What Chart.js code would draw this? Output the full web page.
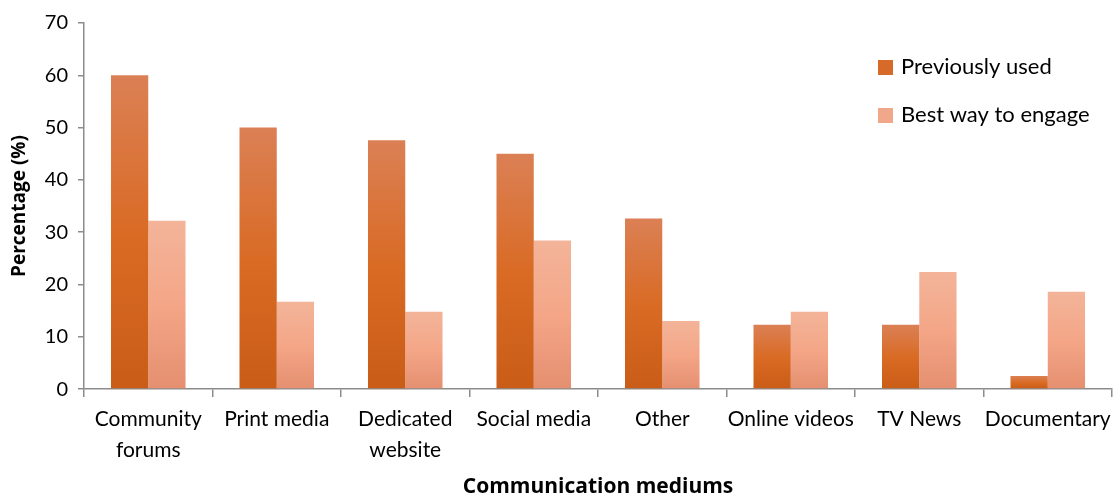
<!DOCTYPE html>
<html>
<head>
<meta charset="utf-8">
<script src="https://cdn.jsdelivr.net/npm/chart.js@4/dist/chart.umd.min.js"></script>
<style>
  html, body { margin: 0; padding: 0; background: #fff; }
  #wrap { width: 1118px; height: 496px; }
</style>
</head>
<body>
<div id="wrap"><canvas id="chart"></canvas></div>
<script>
const categories = [["Community", "forums"], "Print media", ["Dedicated", "website"], "Social media", "Other", "Online videos", "TV News", "Documentary"];
const previouslyUsed = [60, 50, 47.6, 45, 32.6, 12.3, 12.3, 2.5];
const bestWay = [32.2, 16.7, 14.8, 28.4, 13.0, 14.8, 22.4, 18.6];
const yTicks = [0, 10, 20, 30, 40, 50, 60, 70];

const FONT = "Lato, 'Open Sans', sans-serif";
const TITLE_FONT = "'Open Sans', Lato, sans-serif";

// gradient per bar, running from the bar top to the axis
function barGradient(stops) {
    return function (ctx) {
        const chart = ctx.chart;
        if (!chart.chartArea || ctx.type !== 'data') return stops[1];
        const y = chart.scales.y;
        const top = y.getPixelForValue(ctx.raw);
        const base = y.getPixelForValue(0);
        if (!isFinite(top) || top === base) return stops[1];
        const g = chart.ctx.createLinearGradient(0, top, 0, base);
        g.addColorStop(0, stops[0]);
        g.addColorStop(0.5, stops[1]);
        g.addColorStop(1, stops[2]);
        return g;
    };
}

const legendInside = {
    id: 'legendInside',
    afterDraw(chart) {
        const c = chart.ctx;
        c.save();
        c.font = "22px " + FONT;
        c.textBaseline = 'middle';
        chart.data.datasets.forEach((ds, i) => {
            const y = 67 + i * 48;
            c.fillStyle = ds.legendColor;
            c.fillRect(878, y - 7, 15, 15);
            c.fillStyle = '#000';
            c.fillText(ds.label, 901, y);
        });
        c.restore();
    }
};

new Chart(document.getElementById('chart'), {
    type: 'bar',
    data: {
        labels: categories,
        datasets: [{
            label: 'Previously used',
            data: previouslyUsed,
            backgroundColor: barGradient(['#DB8055', '#D96B25', '#C95C16']),
            legendColor: '#D66A28',
            categoryPercentage: 0.58,
            barPercentage: 1
        }, {
            label: 'Best way to engage',
            data: bestWay,
            backgroundColor: barGradient(['#F3B499', '#F4A687', '#E48F70']),
            legendColor: '#F1A88A',
            categoryPercentage: 0.58,
            barPercentage: 1
        }]
    },
    options: {
        responsive: true,
        maintainAspectRatio: false,
        animation: false,
        layout: { padding: { top: 23, right: 5, left: 8, bottom: 0 } },
        plugins: {
            legend: { display: false },
            tooltip: { enabled: false }
        },
        scales: {
            x: {
                offset: true,
                grid: {
                    offset: true,
                    drawOnChartArea: false,
                    drawTicks: true,
                    tickLength: 8,
                    color: '#8C8C8C',
                    lineWidth: 1.5
                },
                border: { color: '#8C8C8C', width: 1.5 },
                ticks: {
                    color: '#000',
                    font: { family: FONT, size: 21, lineHeight: 1.45 },
                    maxRotation: 0,
                    autoSkip: false,
                    padding: 7
                },
                title: {
                    display: true,
                    text: 'Communication mediums',
                    color: '#000',
                    font: { family: TITLE_FONT, size: 21, weight: 'bold', lineHeight: 1.0 },
                    padding: { top: 5, bottom: -2 }
                }
            },
            y: {
                min: 0,
                max: 70,
                afterBuildTicks: (axis) => { axis.ticks = yTicks.map(v => ({ value: v })); },
                grid: {
                    drawOnChartArea: false,
                    drawTicks: true,
                    tickLength: 6,
                    color: '#8C8C8C',
                    lineWidth: 1.5
                },
                border: { color: '#8C8C8C', width: 1.5 },
                ticks: {
                    color: '#000',
                    font: { family: FONT, size: 20 },
                    padding: 10
                },
                title: {
                    display: true,
                    text: 'Percentage (%)',
                    color: '#000',
                    font: { family: TITLE_FONT, size: 19, weight: 'bold' },
                    padding: { top: 0, bottom: 4 }
                }
            }
        }
    },
    plugins: [legendInside]
});
</script>
</body>
</html>
